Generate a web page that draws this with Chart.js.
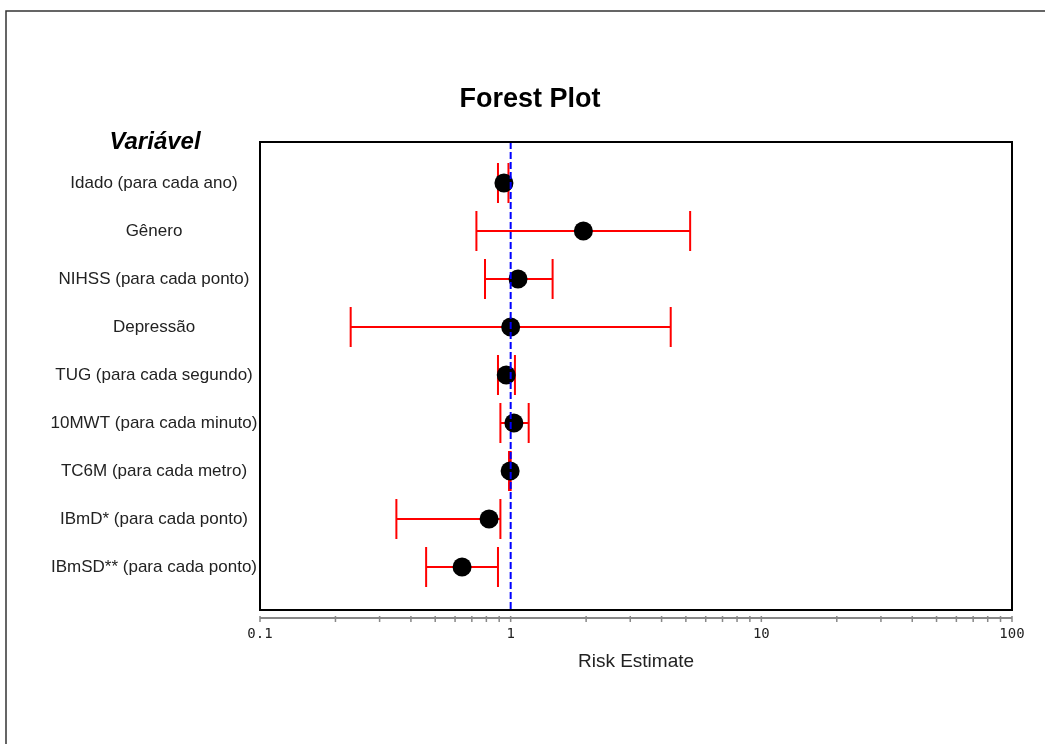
<!DOCTYPE html>
<html>
<head>
<meta charset="utf-8">
<title>Forest Plot</title>
<script src="https://cdn.jsdelivr.net/npm/chart.js@4.4.1/dist/chart.umd.min.js"></script>
<style>
  html, body { margin: 0; padding: 0; background: #fff; }
  #wrap { width: 1045px; height: 744px; }
</style>
</head>
<body>
<div id="wrap"><canvas id="forest" width="1045" height="744"></canvas></div>
<script>
// rows, top to bottom
const variables = [
  'Idado (para cada ano)',
  'Gênero',
  'NIHSS (para cada ponto)',
  'Depressão',
  'TUG (para cada segundo)',
  '10MWT (para cada minuto)',
  'TC6M (para cada metro)',
  'IBmD* (para cada ponto)',
  'IBmSD** (para cada ponto)'
];
const estimates = [0.94, 1.95, 1.07, 1.00, 0.96, 1.03, 0.995, 0.82, 0.64];
const lowerCI   = [0.89, 0.73, 0.79, 0.23, 0.89, 0.91, 0.985, 0.35, 0.46];
const upperCI   = [0.98, 5.20, 1.47, 4.35, 1.04, 1.18, 1.00, 0.91, 0.89];
const riskTicks = [0.1, 1, 10, 100];
const nullValue = 1;

const points = estimates.map((v, i) => ({ x: v, y: i }));

const sans = '"Liberation Sans", Arial, sans-serif';
const mono = '"DejaVu Sans Mono", "Liberation Mono", monospace';

const forestDecor = {
  id: 'forestDecor',
  beforeDraw(chart) {
    const ctx = chart.ctx;
    ctx.save();
    ctx.fillStyle = '#fff';
    ctx.fillRect(0, 0, chart.width, chart.height);
    // page frame
    ctx.strokeStyle = '#333';
    ctx.lineWidth = 1.5;
    ctx.beginPath();
    ctx.moveTo(chart.width, 11);
    ctx.lineTo(6, 11);
    ctx.lineTo(6, chart.height);
    ctx.stroke();
    ctx.restore();
  },
  beforeDatasetsDraw(chart) {
    const { ctx, scales: { x, y } } = chart;
    ctx.save();
    ctx.strokeStyle = '#ff0000';
    ctx.lineWidth = 2;
    variables.forEach((_, i) => {
      const py = y.getPixelForValue(i);
      const x0 = x.getPixelForValue(lowerCI[i]);
      const x1 = x.getPixelForValue(upperCI[i]);
      ctx.beginPath();
      ctx.moveTo(x0, py); ctx.lineTo(x1, py);
      ctx.moveTo(x0, py - 20); ctx.lineTo(x0, py + 20);
      ctx.moveTo(x1, py - 20); ctx.lineTo(x1, py + 20);
      ctx.stroke();
    });
    ctx.restore();
  },
  afterDatasetsDraw(chart) {
    const { ctx, chartArea: a, scales: { x, y } } = chart;
    ctx.save();

    // null line
    const nx = x.getPixelForValue(nullValue);
    ctx.strokeStyle = '#0000ff';
    ctx.lineWidth = 2;
    ctx.setLineDash([7, 3]);
    ctx.beginPath();
    ctx.moveTo(nx, a.top);
    ctx.lineTo(nx, a.bottom);
    ctx.stroke();
    ctx.setLineDash([]);

    // row labels, clipped at the plot frame
    ctx.save();
    ctx.beginPath();
    ctx.rect(0, 0, a.left, chart.height);
    ctx.clip();
    ctx.fillStyle = '#222';
    ctx.font = '17px ' + sans;
    ctx.textAlign = 'center';
    ctx.textBaseline = 'middle';
    variables.forEach((label, i) => {
      ctx.fillText(label, 154, y.getPixelForValue(i));
    });
    ctx.restore();

    // plot frame
    ctx.strokeStyle = '#000';
    ctx.lineWidth = 2;
    ctx.strokeRect(a.left, a.top, a.right - a.left, a.bottom - a.top);

    // x axis below the frame
    const axisY = a.bottom + 8;
    ctx.strokeStyle = '#888';
    ctx.lineWidth = 2;
    ctx.beginPath();
    ctx.moveTo(a.left, axisY);
    ctx.lineTo(a.right, axisY);
    ctx.stroke();
    ctx.lineWidth = 1.5;
    ctx.beginPath();
    for (let d = 0; d < riskTicks.length - 1; d++) {
      for (let k = 1; k < 10; k++) {
        const px = x.getPixelForValue(riskTicks[d] * k);
        ctx.moveTo(px, axisY - 2); ctx.lineTo(px, axisY + 4);
      }
    }
    const last = x.getPixelForValue(riskTicks[riskTicks.length - 1]);
    ctx.moveTo(last, axisY - 2); ctx.lineTo(last, axisY + 4);
    ctx.stroke();

    ctx.fillStyle = '#222';
    ctx.font = '14px ' + mono;
    ctx.textAlign = 'center';
    ctx.textBaseline = 'middle';
    riskTicks.forEach(t => {
      ctx.fillText(String(t), x.getPixelForValue(t), axisY + 16);
    });

    ctx.font = '19px ' + sans;
    ctx.fillText('Risk Estimate', (a.left + a.right) / 2, axisY + 44);

    // headings
    ctx.fillStyle = '#000';
    ctx.font = 'bold 27px ' + sans;
    ctx.fillText('Forest Plot', 530, 100);
    ctx.font = 'italic bold 24px ' + sans;
    ctx.fillText('Variável', 155, 142);

    ctx.restore();
  }
};

new Chart(document.getElementById('forest'), {
  type: 'scatter',
  data: {
    datasets: [{
      label: 'Risk Estimate',
      data: points,
      pointRadius: 9.5,
      pointHoverRadius: 9.5,
      backgroundColor: '#000',
      borderWidth: 0
    }]
  },
  options: {
    responsive: false,
    animation: false,
    devicePixelRatio: 1,
    layout: { padding: { left: 260, right: 33, top: 142, bottom: 134 } },
    scales: {
      x: { type: 'logarithmic', min: riskTicks[0], max: riskTicks[riskTicks.length - 1], display: false },
      y: { type: 'linear', min: -0.854, max: 8.896, reverse: true, display: false }
    },
    plugins: {
      legend: { display: false },
      tooltip: { enabled: false }
    }
  },
  plugins: [forestDecor]
});
</script>
</body>
</html>
